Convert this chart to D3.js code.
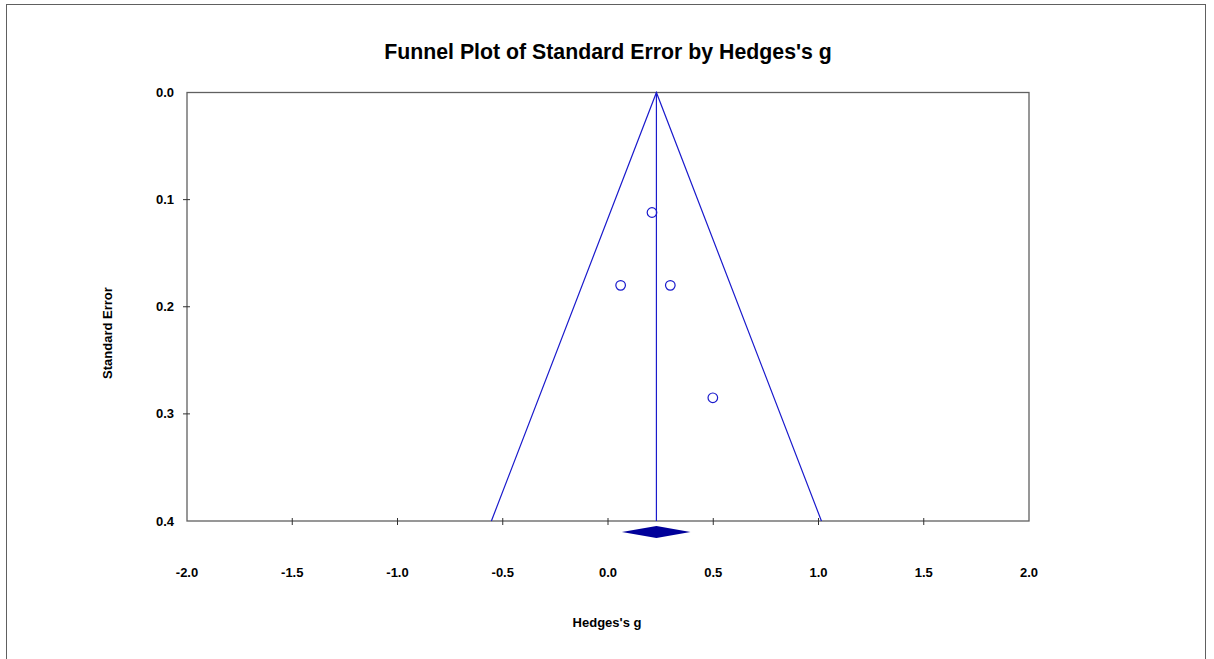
<!DOCTYPE html>
<html>
<head>
<meta charset="utf-8">
<script src="https://cdn.jsdelivr.net/npm/d3@7"></script>
<style>
  html, body { margin: 0; padding: 0; background: #fff; }
  text { font-family: Arial, "Liberation Sans", sans-serif; font-weight: bold; fill: #000; }
</style>
</head>
<body>
<svg id="chart" width="1214" height="659"></svg>
<script>
// Study data
const studyG = [0.209, 0.060, 0.296, 0.498];
const studySE = [0.112, 0.180, 0.180, 0.285];

// Summary effect and its confidence interval
const pooledG = 0.230;
const pooledLow = 0.066;
const pooledHigh = 0.392;

// Axis ticks
const xTicks = [-2.0, -1.5, -1.0, -0.5, 0.0, 0.5, 1.0, 1.5, 2.0];
const yTicks = [0.0, 0.1, 0.2, 0.3, 0.4];

const svg = d3.select("#chart");
const blue = "#1a1acc";

// Outer frame
svg.append("rect")
  .attr("x", 6.5).attr("y", 4.5)
  .attr("width", 1199).attr("height", 660)
  .attr("fill", "none")
  .attr("stroke", "#606060")
  .attr("stroke-width", 1);

// plot area edges
const plotLeft = 187, plotRight = 1029, plotTop = 92.5, plotBottom = 521;

const x = d3.scaleLinear().domain([-2, 2]).range([plotLeft, plotRight]);
const y = d3.scaleLinear().domain([0, 0.4]).range([plotTop, plotBottom]);

// Title
svg.append("text")
  .attr("x", 608).attr("y", 59)
  .attr("text-anchor", "middle")
  .style("font-size", "21.3px")
  .text("Funnel Plot of Standard Error by Hedges's g");

// Plot box
svg.append("rect")
  .attr("x", plotLeft).attr("y", plotTop)
  .attr("width", plotRight - plotLeft).attr("height", plotBottom - plotTop)
  .attr("fill", "none")
  .attr("stroke", "#606060")
  .attr("stroke-width", 1.3);

// Crossing ticks on x axis
const xAxis = svg.append("g");
xAxis.selectAll("line")
  .data(xTicks.slice(1, -1))
  .enter().append("line")
  .attr("x1", d => x(d)).attr("x2", d => x(d))
  .attr("y1", plotBottom - 3).attr("y2", plotBottom + 4)
  .attr("stroke", "#303030");
xAxis.selectAll("text")
  .data(xTicks)
  .enter().append("text")
  .attr("x", d => x(d))
  .attr("y", 577)
  .attr("text-anchor", "middle")
  .style("font-size", "13px")
  .text(d => d.toFixed(1)); // plain hyphen minus like the original

// Crossing ticks on y axis
const yAxis = svg.append("g");
yAxis.selectAll("line")
  .data(yTicks.slice(1, -1))
  .enter().append("line")
  .attr("x1", plotLeft - 4).attr("x2", plotLeft + 3)
  .attr("y1", d => y(d)).attr("y2", d => y(d))
  .attr("stroke", "#303030");
yAxis.selectAll("text")
  .data(yTicks)
  .enter().append("text")
  .attr("x", 174)
  .attr("y", d => y(d))
  .attr("dy", "0.35em")
  .attr("text-anchor", "end")
  .style("font-size", "13px")
  .text(d => d.toFixed(1));

// Axis titles
svg.append("text")
  .attr("x", 607).attr("y", 627)
  .attr("text-anchor", "middle")
  .style("font-size", "13px")
  .text("Hedges's g");

svg.append("text")
  .attr("transform", "translate(112, 333) rotate(-90)")
  .attr("text-anchor", "middle")
  .style("font-size", "13px")
  .text("Standard Error");

// Funnel: pooled effect +/- 1.96 * SE
const seMax = y.domain()[1];
const funnel = [
  [pooledG - 1.96 * seMax, seMax],
  [pooledG, 0],
  [pooledG + 1.96 * seMax, seMax]
];
svg.append("path")
  .attr("d", d3.line().x(d => x(d[0])).y(d => y(d[1]))(funnel))
  .attr("fill", "none")
  .attr("stroke", blue)
  .attr("stroke-width", 1.2);

// Pooled effect line
svg.append("line")
  .attr("x1", x(pooledG)).attr("x2", x(pooledG))
  .attr("y1", y(0)).attr("y2", y(seMax))
  .attr("stroke", blue)
  .attr("stroke-width", 1.2);

// Studies
svg.selectAll("circle.study")
  .data(studyG.map((g, i) => ({ g: g, se: studySE[i] })))
  .enter().append("circle")
  .attr("class", "study")
  .attr("cx", d => x(d.g))
  .attr("cy", d => y(d.se))
  .attr("r", 4.8)
  .attr("fill", "none")
  .attr("stroke", blue)
  .attr("stroke-width", 1.2);

// Summary diamond below the axis
const diamondY = 532;
const diamond = [
  [x(pooledLow), diamondY],
  [x(pooledG), diamondY - 6],
  [x(pooledHigh), diamondY],
  [x(pooledG), diamondY + 6]
];
svg.append("polygon")
  .attr("points", diamond.map(p => p.join(",")).join(" "))
  .attr("fill", "#00009a")
  .attr("stroke", "none");
</script>
</body>
</html>
